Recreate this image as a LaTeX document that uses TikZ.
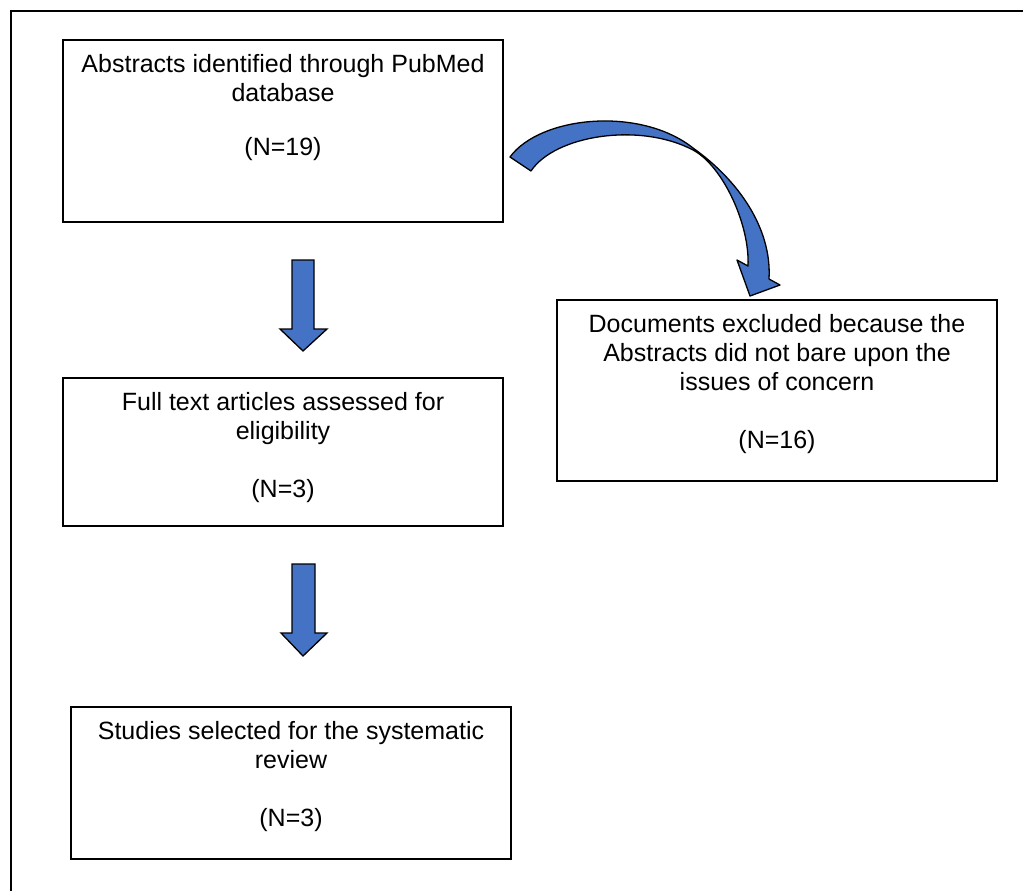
\documentclass[tikz,border=0pt]{standalone}
\usepackage{fontspec}
\setmainfont{Liberation Sans}
\definecolor{arrowblue}{RGB}{68,114,196}
\newcommand\boxtext[3]{\parbox[c][#2][t]{#1}{\centering\rule{0pt}{32pt}#3}}
\begin{document}
\begin{tikzpicture}[x=1pt,y=-1pt,
  font=\fontsize{25}{29}\selectfont,
  box/.style={draw=black, line width=1.5pt, inner sep=0pt, outer sep=0pt, fill=white},
  blockarrow/.style={draw=black, line width=1.3pt, fill=arrowblue, line join=miter},
  frame/.style={draw=black, line width=2pt}]
\useasboundingbox (0,0) rectangle (1023,891);
\draw[frame] (11,891) -- (11,11) -- (1023,11);

\node[box] (b1) at (283,131) {\boxtext{440pt}{182pt}{Abstracts identified through PubMed\\database\\[25pt](N=19)}};
\node[box] (b2) at (777,390.5) {\boxtext{440pt}{181pt}{Documents excluded because the\\Abstracts did not bare upon the\\issues of concern\\[29pt](N=16)}};
\node[box] (b3) at (283,452) {\boxtext{440pt}{148pt}{Full text articles assessed for\\eligibility\\[29pt](N=3)}};
\node[box] (b4) at (291,783) {\boxtext{440pt}{152pt}{Studies selected for the systematic\\review\\[29pt](N=3)}};

% straight block arrows
\draw[blockarrow] (292,260) -- (314,260) -- (314,329) -- (327,329) -- (303,351) -- (280,329) -- (292,329) -- cycle;
\draw[blockarrow] (292,564) -- (315,564) -- (315,633) -- (327,633) -- (303,656) -- (281,633) -- (292,633) -- cycle;

% curved block arrow
\draw[blockarrow, line join=round]
  (510,157) .. controls (540,116) and (640,106) .. (693,148)
  .. controls (738,180) and (772,228) .. (769,279)
  -- (780,285) -- (750,296) -- (737,260) -- (748,266)
  .. controls (750,225) and (723,166) .. (693,150)
  .. controls (640,122) and (555,135) .. (531,171)
  -- cycle;
\end{tikzpicture}
\end{document}
